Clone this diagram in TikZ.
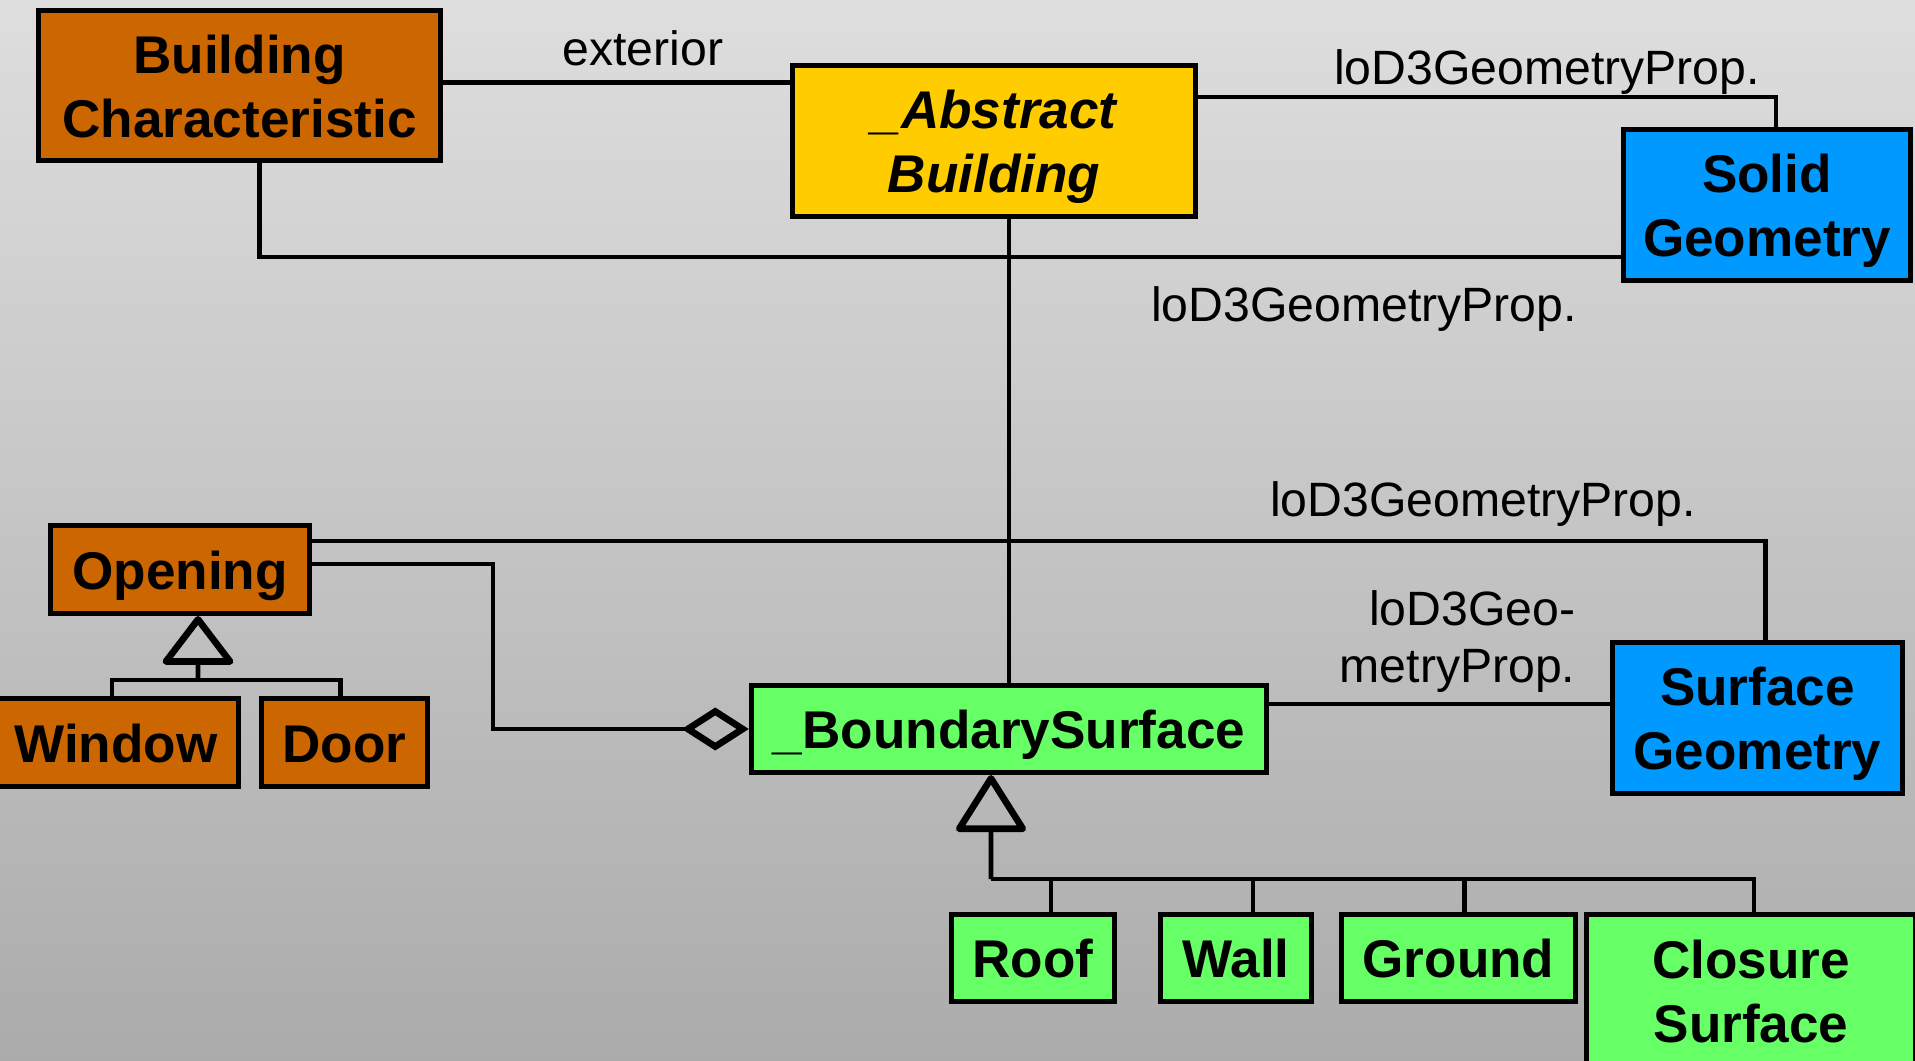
\documentclass[tikz,border=0pt]{standalone}
\usepackage{fontspec}
\setmainfont{Liberation Sans}
\usetikzlibrary{arrows.meta,calc}

\definecolor{bgtop}{HTML}{DEDEDE}
\definecolor{bgbot}{HTML}{ABABAB}
\definecolor{featorange}{HTML}{CC6600}
\definecolor{abstractyellow}{HTML}{FFCC00}
\definecolor{geomblue}{HTML}{0099FF}
\definecolor{surfgreen}{HTML}{66FF66}

\tikzset{
  cls/.style={draw=black, line width=1.45pt, inner sep=0pt, align=center,
    text depth=0pt, text height=0.39cm,
    font=\bfseries\fontsize{15.1pt}{18.2pt}\selectfont},
  twoline/.style={text height=1.03cm},
  feat/.style={cls, fill=featorange},
  absc/.style={cls, fill=abstractyellow},
  geom/.style={cls, fill=geomblue},
  surf/.style={cls, fill=surfgreen},
  conn/.style={draw=black, line width=1.3pt},
  lbl/.style={inner sep=0pt, font=\fontsize{13.7pt}{16.2pt}\selectfont},
  genop/.style={conn, -{Triangle[open, length=0.51cm, width=0.76cm, line width=1.9pt, round]}},
  genbs/.style={conn, -{Triangle[open, length=0.6cm, width=0.74cm, line width=1.9pt, round]}},
  aggr/.style={conn, -{Diamond[open, length=0.67cm, width=0.43cm, line width=1.9pt]}},
}

\begin{document}
\begin{tikzpicture}[x=0.01cm, y=-0.01cm]
\useasboundingbox (0,0) rectangle (1915,1061);
\clip (0,0) rectangle (1915,1061);
\shade[top color=bgtop, bottom color=bgbot] (0,0) rectangle (1915,1061);

% classes
\node[feat, twoline, minimum width=4.02cm, minimum height=1.50cm] (bc) at (239.5,85.5) {Building\\Characteristic};
\node[absc, twoline, minimum width=4.03cm, minimum height=1.51cm] (ab) at (994,141) {\itshape \_Abstract\\\itshape Building};
\node[geom, twoline, minimum width=2.87cm, minimum height=1.51cm] (sg) at (1767,205) {Solid\\Geometry};
\node[feat, minimum width=2.59cm, minimum height=0.88cm] (op) at (180,569.5) {Opening};
\node[feat, minimum width=2.45cm, minimum height=0.88cm] (win) at (116,742.5) {Window};
\node[feat, minimum width=1.66cm, minimum height=0.88cm] (door) at (344.5,742.5) {Door};
\node[surf, minimum width=5.15cm, minimum height=0.87cm] (bs) at (1009,729) {\_BoundarySurface};
\node[geom, twoline, minimum width=2.90cm, minimum height=1.51cm] (sfg) at (1757.5,718) {Surface\\Geometry};
\node[surf, minimum width=1.63cm, minimum height=0.87cm] (roof) at (1033,958) {Roof};
\node[surf, minimum width=1.51cm, minimum height=0.87cm] (wall) at (1236,958) {Wall};
\node[surf, minimum width=2.34cm, minimum height=0.87cm] (ground) at (1458.5,958) {Ground};
\node[surf, text height=1.00cm, minimum width=3.29cm, minimum height=1.55cm] (cl) at (1751,992) {Closure\\Surface};

% associations
\draw[conn] ([yshift=0.03cm]bc.east) -- ([yshift=0.03cm]bc.east -| ab.west);
\draw[conn] ([yshift=-0.34cm]ab.north east) -| ([xshift=0.09cm]sg.north);
\draw[conn] ([xshift=0.2cm]bc.south) |- ([yshift=-0.52cm]sg.west);
\draw[conn] (ab.south -| bs.north) -- (bs.north);
\draw[conn] ([yshift=0.285cm]op.east) -| ([xshift=0.08cm]sfg.north);
\draw[conn] ([yshift=0.25cm]bs.east) -- ([yshift=0.25cm]bs.east -| sfg.west);

% aggregation Opening -> _BoundarySurface
\coordinate (aggcol) at (493,0);
\draw[aggr] ([yshift=0.055cm]op.east) -| (aggcol |- bs.west) -- (bs.west);

% generalization of Opening
\coordinate (opjoin) at ($(op.south)+(18,64)$);
\draw[conn] ([xshift=-0.04cm]win.north) |- (opjoin) -| ([xshift=-0.04cm]door.north);
\draw[genop] (opjoin) -- ([xshift=0.18cm]op.south);

% generalization of _BoundarySurface
\coordinate (bsjoin) at ($(bs.south)+(-18,104)$);
\draw[conn] (bsjoin) -| ([xshift=0.03cm]cl.north);
\draw[conn] ([xshift=0.18cm]roof.north) -- ([xshift=0.18cm]roof.north |- bsjoin);
\draw[conn] ([xshift=0.17cm]wall.north) -- ([xshift=0.17cm]wall.north |- bsjoin);
\draw[conn] ([xshift=0.06cm]ground.north) -- ([xshift=0.06cm]ground.north |- bsjoin);
\draw[genbs] (bsjoin) -- ([xshift=-0.18cm]bs.south);

% role labels
\node[lbl, anchor=base] (lext) at (643,66) {exterior};
\node[lbl, anchor=base] (lsolid) at (1547,85) {loD3GeometryProp.};
\node[lbl, anchor=base] (lsolid2) at (1364,322) {loD3GeometryProp.};
\node[lbl, anchor=base] (lopen) at (1483,517) {loD3GeometryProp.};
\node[lbl, anchor=base east, align=right] (lsurf) at (1576,682) {loD3Geo-\\metryProp.};
\end{tikzpicture}
\end{document}
